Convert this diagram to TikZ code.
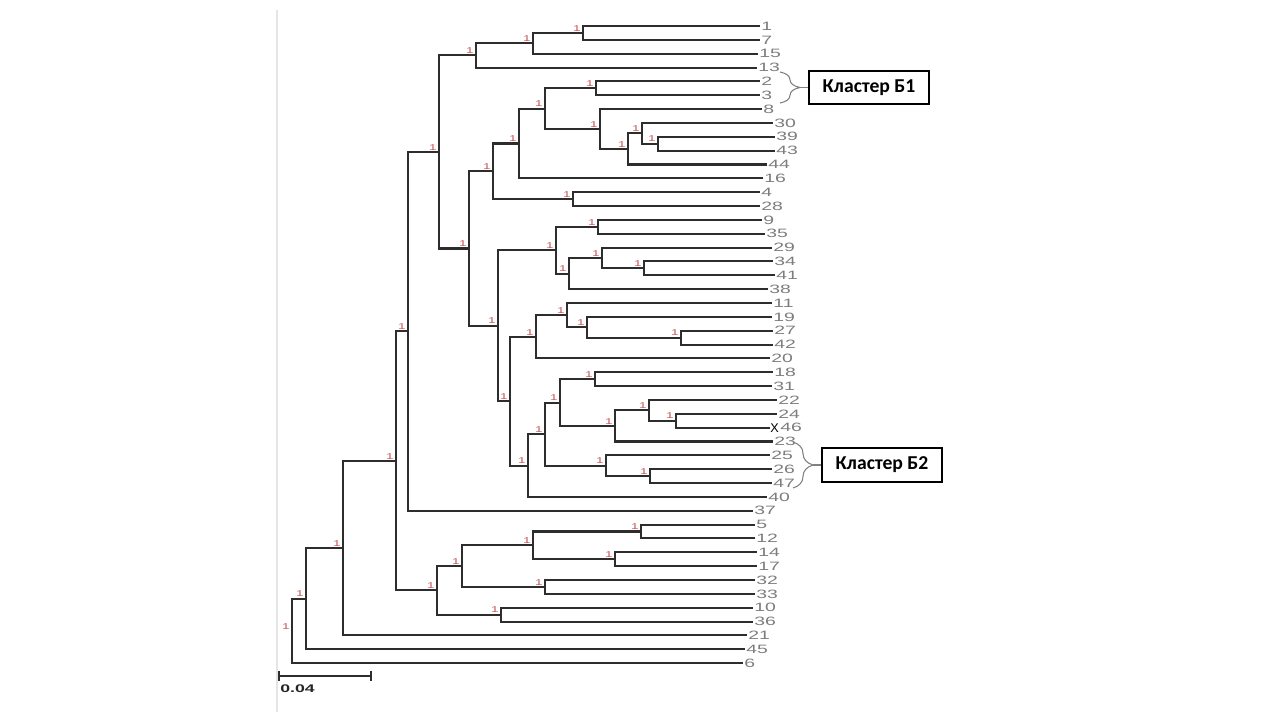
\documentclass[tikz,border=0pt]{standalone}
\usepackage{fontspec}
\usepackage{tikz}
\usetikzlibrary{decorations.pathreplacing}
\newfontfamily\leaffont[FakeStretch=1.6]{Liberation Sans}
\newfontfamily\markfont{Liberation Sans}
\newfontfamily\boxfont{Carlito}
\definecolor{branchcol}{RGB}{45,45,45}
\definecolor{leafcol}{RGB}{125,125,125}
\definecolor{bootcol}{RGB}{200,85,85}

\begin{document}
\begin{tikzpicture}[x=0.02cm, y=-0.02cm,
	branch/.style={draw=branchcol, line width=1.15pt},
	leaf/.style={anchor=west, inner sep=0.6pt, text=leafcol, font=\leaffont\fontsize{6.9}{7}\selectfont},
	boot/.style={anchor=south east, inner sep=0.8pt, xshift=-0.4pt, text=bootcol, font=\leaffont\fontsize{4.8}{5}\selectfont},
	cluster/.style={draw, line width=0.9pt, minimum width=2.4cm, minimum height=0.67cm, inner sep=0pt, font=\boxfont\bfseries\fontsize{11.2}{13}\selectfont},
	clbrace/.style={draw=gray, line width=0.6pt, decorate, decoration={brace, amplitude=0.4cm}}]

		\useasboundingbox (0,0) rectangle (1280,720);
		\fill[white] (0,0) rectangle (1280,720);
		\draw[gray!20, line width=1.2pt] (277,10) -- (277,712);

		\foreach \lab/\xe [count=\i] in {1/760,7/760,15/758,13/757,2/760,3/760,8/762,30/773,39/775,43/775,44/767,16/763,4/760,28/760,9/762,35/765,29/772,34/773,41/775,38/768,11/772,19/772,27/773,42/773,20/770,18/773,31/772,22/777,24/777,46/779,23/773,25/770,26/772,47/772,40/767,37/753,5/755,12/755,14/757,17/757,32/755,33/755,10/753,36/753,21/747,45/745,6/743}
		{
			\coordinate (t\lab) at (\xe,{26+(\i-1)*13.85});
			\node[leaf] (l\lab) at (t\lab) {\lab};
		}

		\foreach \n/\px/\py in {root/292/630.9, A/306/598.7, B/343/548.2, C/396/460.9, D/408/331.4, E/437/590.4, F/439/152.0, G/476/55.4, H/533/43.3, I/583/32.9, J/469/248.5, K/493/171.3, L/573/199.1, M/519/143.5, N/545/108.7, O/596/88.3, P/600/129.0, Q/628/148.9, R/642/133.3, S/658/143.7, T/498/325.7, U/556/250.2, V/598/226.8, W/569/273.6, X/602/258.0, Y/644/268.4, Z/510/401.2, AA/528/465.6, AB/536/336.8, AC/567/315.1, AD/587/327.2, AE/681/337.6, AF/545/434.2, AG/560/402.6, AH/595/379.2, AI/615/425.9, AJ/649/410.3, AK/676/420.7, AL/606/465.7, AM/650/476.1, AN/462/566.2, AO/533/545.4, AP/545/586.9, AQ/641/531.5, AR/615/559.2, AS/501/614.6}
		{
			\coordinate (c\n) at (\px,\py);
			\node[boot] (b\n) at (c\n) {1};
		}

		\foreach \p/\c in {croot/cA, croot/t6, cA/cB, cA/t45, cB/cC, cB/t21, cC/cD, cC/cE, cD/cF, cD/t37, cF/cG, cF/cJ, cG/cH, cG/t13, cH/cI, cH/t15, cI/t1, cI/t7, cJ/cK, cJ/cT, cK/cM, cK/cL, cL/t4, cL/t28, cM/cN, cM/t16, cN/cO, cN/cP, cO/t2, cO/t3, cP/t8, cP/cQ, cQ/cR, cQ/t44, cR/t30, cR/cS, cS/t39, cS/t43, cT/cU, cT/cZ, cU/cV, cU/cW, cV/t9, cV/t35, cW/cX, cW/t38, cX/t29, cX/cY, cY/t34, cY/t41, cZ/cAB, cZ/cAA, cAB/cAC, cAB/t20, cAC/t11, cAC/cAD, cAD/t19, cAD/cAE, cAE/t27, cAE/t42, cAA/cAF, cAA/t40, cAF/cAG, cAF/cAL, cAG/cAH, cAG/cAI, cAH/t18, cAH/t31, cAI/cAJ, cAI/t23, cAJ/t22, cAJ/cAK, cAK/t24, cAK/t46, cAL/t25, cAL/cAM, cAM/t26, cAM/t47, cE/cAN, cE/cAS, cAN/cAO, cAN/cAP, cAO/cAQ, cAO/cAR, cAQ/t5, cAQ/t12, cAR/t14, cAR/t17, cAP/t32, cAP/t33, cAS/t10, cAS/t36}
			\draw[branch] (\p) |- (\c);

		\node[fill=white, inner sep=0.3pt, font=\markfont\fontsize{7.2}{8}\selectfont] (xmark) at (774.5,428) {X};

		\coordinate (sbl) at (279,676);
		\coordinate (sbr) at (371,676);
		\draw[branch] (sbl) -- (sbr);
		\draw[branch] ([yshift=3pt]sbl) -- ([yshift=-3pt]sbl);
		\draw[branch] ([yshift=3pt]sbr) -- ([yshift=-3pt]sbr);
		\node[anchor=west, inner sep=0pt, text=black!85, font=\leaffont\bfseries\fontsize{6.3}{7}\selectfont] (sblab) at (280,689) {0.04};

		\node[cluster] (kb1) at (869,87.5) {Кластер Б1};
		\node[cluster] (kb2) at (882,465) {Кластер Б2};
		\draw[clbrace] (780,72) -- coordinate[pos=0.5, xshift=0.4cm] (br1) (780,103);
		\draw[clbrace] (793,442) -- coordinate[pos=0.5, xshift=0.4cm] (br2) (793,488);
		\draw[gray, line width=0.6pt] (br1) -- (kb1.west);
		\draw[gray, line width=0.6pt] (br2) -- (kb2.west);

	\end{tikzpicture}
\end{document}
